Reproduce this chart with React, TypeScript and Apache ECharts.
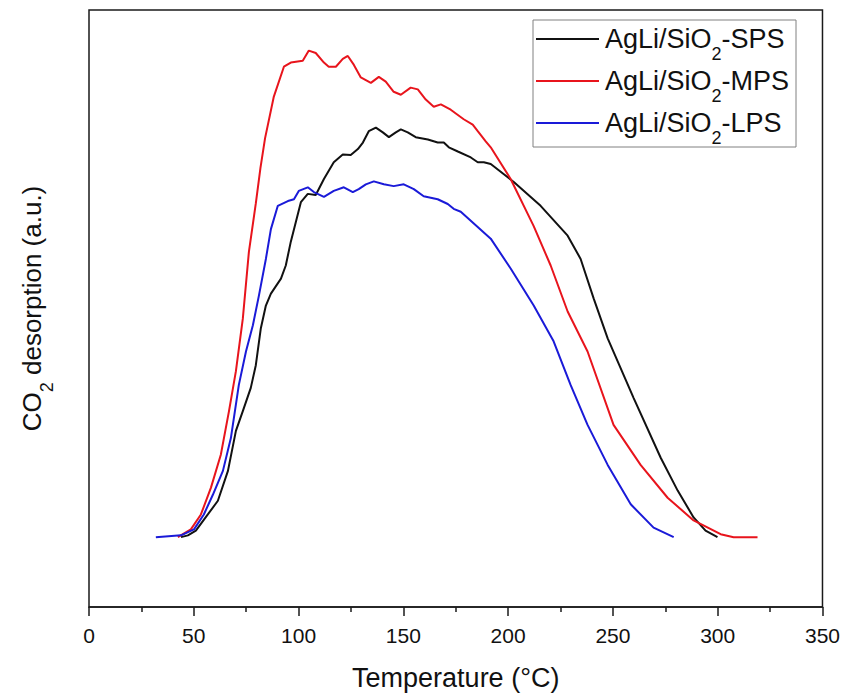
import React, { useEffect, useRef } from "react";
import * as echarts from "echarts";

// Temperature (°C), CO2 desorption (a.u., 0-100 plot scale)
const spsData: [number, number][] = [
  [43.9, 11.7], [47.2, 12.0], [51.0, 12.8], [56.7, 15.5], [61.5, 17.8], [66.3, 22.8],
  [70.1, 29.5], [73.4, 32.8], [77.2, 36.7], [79.6, 40.5], [82.0, 46.7], [84.4, 50.5],
  [86.8, 52.5], [91.6, 55.0], [93.9, 57.2], [96.3, 61.2], [98.7, 64.5], [101.1, 67.8],
  [104.4, 69.2], [108.2, 69.0], [112.1, 71.7], [116.8, 74.5], [121.1, 75.8], [124.9, 75.7],
  [128.3, 76.7], [130.7, 77.8], [133.5, 79.7], [136.9, 80.3], [140.2, 79.5], [143.1, 78.7],
  [146.4, 79.5], [148.8, 80.0], [152.1, 79.5], [155.9, 78.7], [161.7, 78.3], [166.4, 77.8],
  [169.3, 77.8], [171.7, 77.0], [176.0, 76.3], [182.2, 75.3], [185.5, 74.5], [188.4, 74.5],
  [191.7, 74.2], [202.7, 71.2], [215.5, 67.2], [228.4, 62.2], [234.6, 58.3], [240.8, 51.7],
  [247.5, 45.0], [259.9, 35.0], [272.8, 25.0], [280.9, 19.5], [288.5, 15.0], [294.2, 12.8],
  [299.9, 11.7],
];

const mpsData: [number, number][] = [
  [42.4, 11.7], [48.6, 13.0], [53.4, 15.5], [58.2, 20.0], [62.9, 25.5], [66.8, 32.8],
  [70.1, 39.5], [73.4, 48.3], [76.3, 59.5], [79.6, 67.6], [81.8, 73.5], [84.0, 78.5],
  [88.2, 85.5], [93.0, 90.5], [96.3, 91.2], [102.0, 91.5], [104.9, 93.2], [108.2, 92.8],
  [112.1, 91.2], [114.4, 90.5], [117.8, 90.5], [121.1, 91.8], [123.5, 92.3], [126.4, 90.8],
  [129.7, 88.7], [134.5, 87.8], [138.3, 88.8], [141.6, 88.0], [145.4, 86.3], [148.8, 85.8],
  [153.5, 87.0], [156.9, 86.7], [160.7, 85.0], [164.5, 83.8], [167.9, 84.2], [172.6, 83.3],
  [178.8, 81.7], [183.1, 80.8], [185.5, 79.7], [189.3, 78.0], [191.7, 77.0], [201.2, 71.7],
  [212.2, 63.8], [220.3, 57.2], [228.4, 49.5], [237.9, 42.8], [250.3, 30.5], [263.2, 23.8],
  [276.1, 18.3], [288.5, 14.5], [301.4, 12.2], [307.6, 11.7], [319.0, 11.7],
];

const lpsData: [number, number][] = [
  [31.9, 11.7], [43.9, 12.0], [50.1, 13.0], [54.8, 15.5], [59.1, 18.8], [63.9, 22.8],
  [67.7, 28.3], [71.5, 37.2], [74.9, 42.8], [78.2, 47.2], [81.1, 52.2], [84.4, 58.3],
  [86.8, 63.3], [90.1, 67.2], [94.9, 68.0], [97.8, 68.3], [100.1, 69.7], [104.4, 70.3],
  [107.3, 69.5], [112.1, 68.7], [116.8, 69.7], [121.6, 70.3], [125.9, 69.5], [128.7, 70.0],
  [132.1, 70.8], [135.9, 71.3], [140.7, 70.8], [145.4, 70.5], [150.2, 70.8], [155.0, 70.0],
  [159.7, 68.8], [166.4, 68.3], [171.2, 67.5], [174.0, 66.7], [177.4, 66.2], [191.7, 61.7],
  [201.2, 56.7], [212.2, 50.5], [221.7, 44.5], [229.8, 37.2], [237.9, 30.5], [247.5, 23.8],
  [258.5, 17.2], [269.4, 13.3], [279.0, 11.7],
];

const seriesNames = ["AgLi/SiO2-SPS", "AgLi/SiO2-MPS", "AgLi/SiO2-LPS"];
const seriesColors = ["#111111", "#e8141c", "#1a1ad8"];

const FONT = "'Liberation Sans', Arial, sans-serif";

export default function App() {
  const ref = useRef<HTMLDivElement>(null);

  useEffect(() => {
    if (!ref.current) return;
    const chart = echarts.init(ref.current, undefined, { renderer: "svg" });
    const subStyle = {
      fontSize: 18,
      fontFamily: FONT,
      fill: "#111",
      color: "#111",
      lineHeight: 20,
      padding: [30, 0, 0, 0],
    };
    const datasets = [spsData, mpsData, lpsData];

    // legend box (drawn as graphic so the subscript can sit low like the original)
    const legX = 533, legY = 20, legW = 263, legH = 127;
    const rowY0 = 39, rowStep = 42;
    const legendEls: any[] = [
      {
        type: "rect",
        shape: { x: legX, y: legY, width: legW, height: legH },
        style: { fill: "#fff", stroke: "#808080", lineWidth: 1 },
        z: 10,
      },
    ];
    seriesNames.forEach((name, i) => {
      const cy = rowY0 + rowStep * i;
      legendEls.push({
        type: "line",
        shape: { x1: legX + 3, y1: cy, x2: legX + 66, y2: cy },
        style: { stroke: seriesColors[i], lineWidth: 2 },
        z: 11,
      });
      legendEls.push({
        type: "text",
        x: legX + 72,
        y: cy,
        z: 11,
        style: {
          text: name.replace("SiO2", "SiO{sub|2}"),
          fontSize: 27,
          fontFamily: FONT,
          fill: "#111",
          lineHeight: 30,
          align: "left",
          verticalAlign: "middle",
          rich: { sub: subStyle },
        },
      });
    });

    chart.setOption({
      animation: false,
      backgroundColor: "#ffffff",
      grid: {
        left: 88,
        right: 20,
        top: 10,
        bottom: 85,
        show: true,
        borderColor: "#1a1a1a",
        borderWidth: 1.5,
        backgroundColor: "transparent",
      },
      graphic: legendEls,
      xAxis: {
        type: "value",
        min: 0,
        max: 350,
        interval: 50,
        name: "Temperature (°C)",
        nameLocation: "middle",
        nameGap: 57,
        nameTextStyle: { fontSize: 27, fontFamily: FONT, color: "#111" },
        axisLine: { show: true, lineStyle: { color: "#1a1a1a", width: 1.5 } },
        axisTick: { show: true, length: 9, lineStyle: { color: "#1a1a1a", width: 1.5 } },
        minorTick: { show: true, splitNumber: 2, length: 5, lineStyle: { color: "#1a1a1a", width: 1.5 } },
        axisLabel: { fontSize: 21, fontFamily: FONT, color: "#111", margin: 18 },
        splitLine: { show: false },
      },
      yAxis: {
        type: "value",
        min: 0,
        max: 100,
        name: "CO{sub|2} desorption (a.u.)",
        nameLocation: "middle",
        nameGap: 42,
        nameTextStyle: {
          fontSize: 26,
          fontFamily: FONT,
          color: "#111",
          lineHeight: 30,
          rich: { sub: subStyle },
        },
        axisLine: { show: false },
        axisTick: { show: false },
        axisLabel: { show: false },
        splitLine: { show: false },
      },
      series: datasets.map((d, i) => ({
        name: seriesNames[i],
        type: "line",
        data: d,
        symbol: "none",
        smooth: false,
        lineStyle: { color: seriesColors[i], width: 2 },
        itemStyle: { color: seriesColors[i] },
      })),
    });
    return () => chart.dispose();
  }, []);

  return (
    <div
      ref={ref}
      style={{ position: "absolute", left: 0, top: 0, width: 843, height: 696 }}
    />
  );
}
